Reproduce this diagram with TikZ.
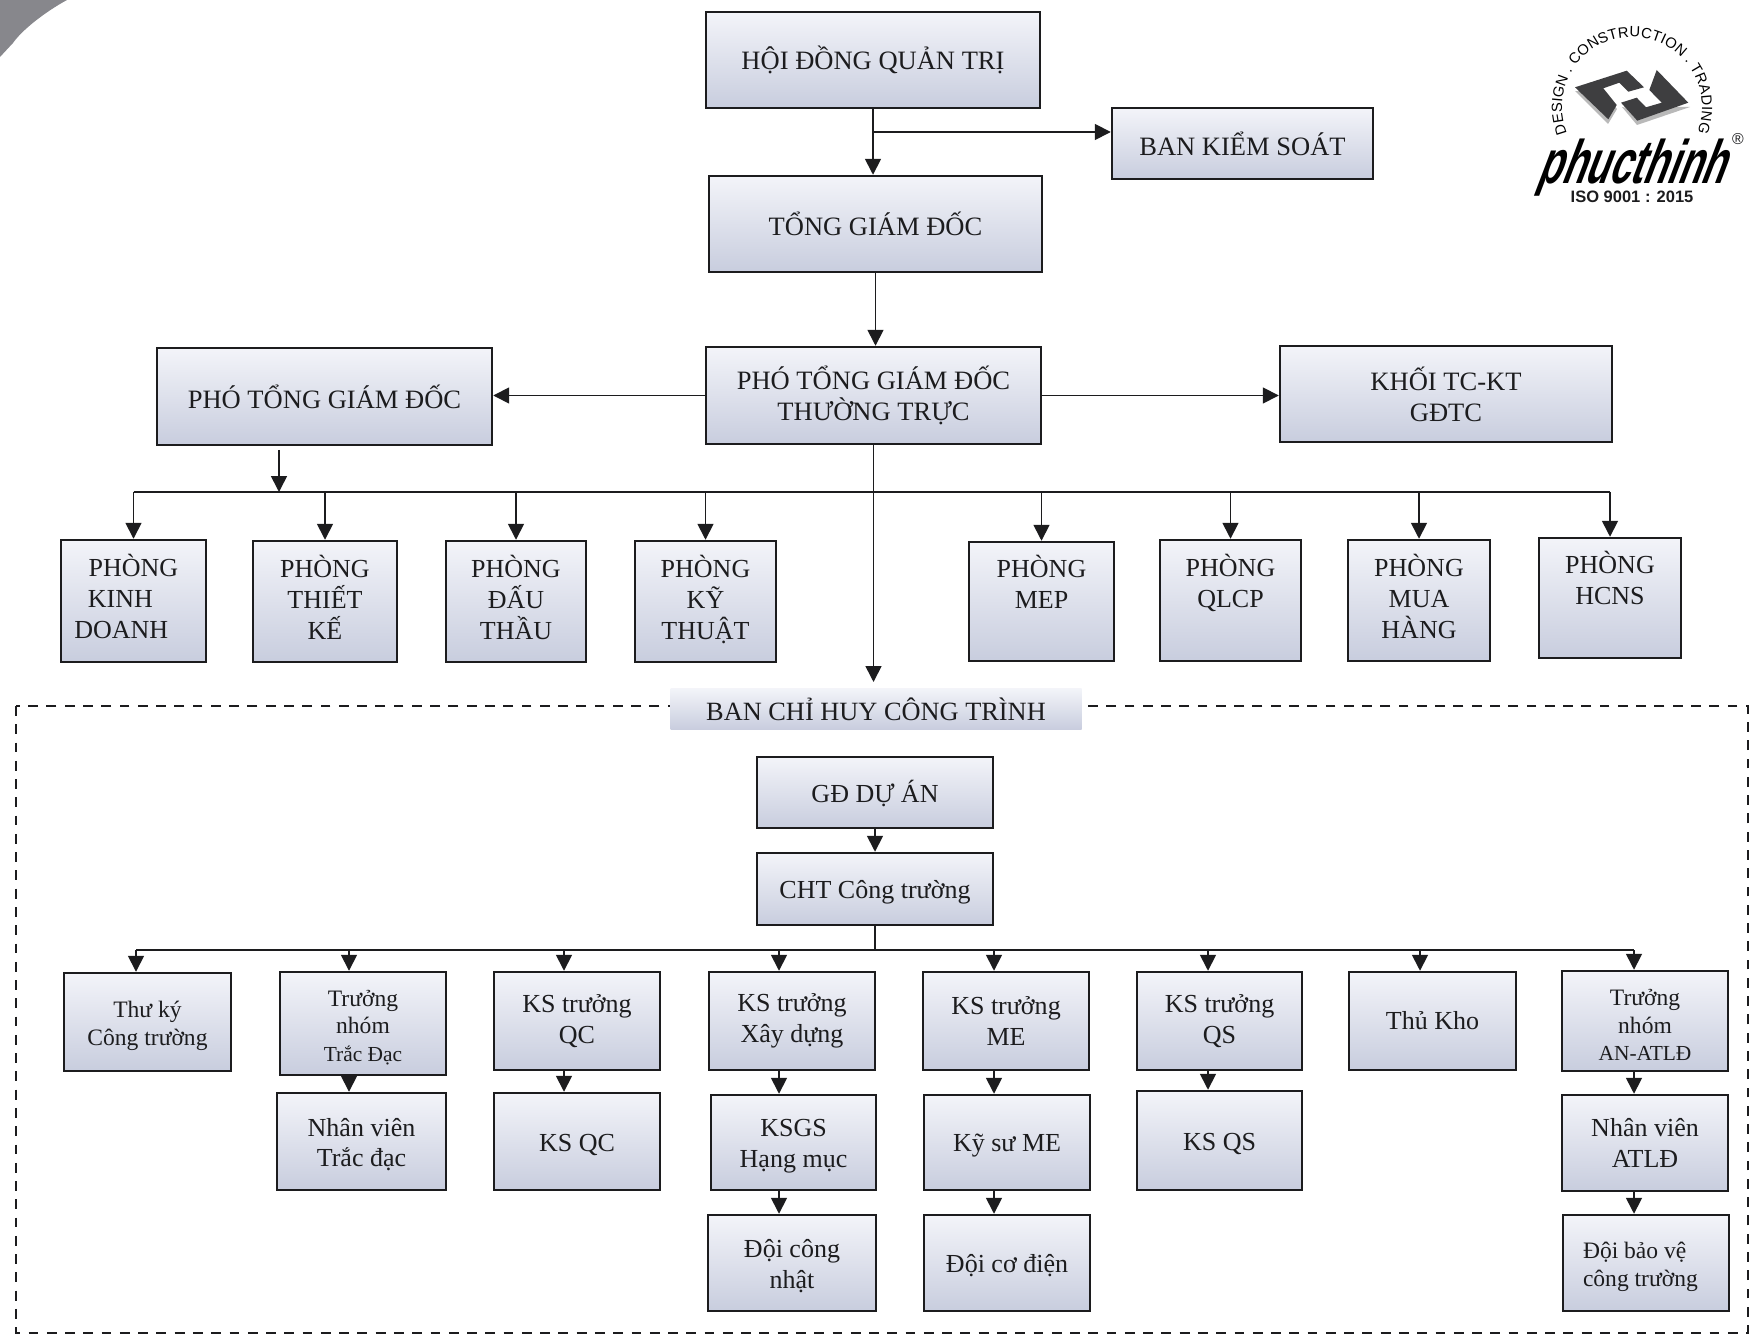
\documentclass[tikz,border=0pt]{standalone}
\usepackage{fontspec}
\setmainfont{Liberation Serif}
\newfontfamily\logofont[FakeSlant=0.38,FakeStretch=0.63]{Liberation Sans}
\newfontfamily\logosans{Liberation Sans}
\usetikzlibrary{arrows.meta,decorations.text}
\definecolor{boxtop}{RGB}{243,244,249}
\definecolor{boxbot}{RGB}{200,205,222}
\definecolor{cornergrey}{RGB}{135,135,140}
\definecolor{inkdark}{RGB}{28,28,30}
\definecolor{logogrey}{RGB}{185,185,185}
\newcommand{\smalltxt}{\fontsize{12.2}{15}\selectfont}
\newcommand{\topgap}{~\\[-3.8pt]}
\newcommand{\topgapm}{~\\[-2pt]}
\newcommand{\botgap}{\\[-12.6pt]~}
\newcommand{\botblank}{\\[5pt]~}

\begin{document}
\begin{tikzpicture}[x=0.02cm,y=0.02cm,
  wh/.style 2 args={minimum width=#1*0.02cm,minimum height=#2*0.02cm}]
\tikzstyle{every node}+=[inner sep=0pt,text=inkdark]
\tikzstyle{box}=[draw=inkdark,line width=1.4pt,top color=boxtop,bottom color=boxbot,align=center,font=\fontsize{14.8}{17.6}\selectfont]
\tikzstyle{headbox}=[box,font=\fontsize{15.1}{17.6}\selectfont]
\tikzstyle{midbox}=[box,font=\fontsize{13.4}{15.8}\selectfont]
\tikzstyle{link}=[draw=inkdark,line width=0.95pt]
\tikzstyle{arrow}=[link,-{Triangle[length=9pt,width=9pt]}]
\useasboundingbox (0,0) rectangle (1750,-1337);
\fill [cornergrey] (0,0) -- (67,0) .. controls (45,-12) and (22,-30) .. (13,-43) -- (0,-57) -- cycle;
\draw [inkdark,line width=1.15pt,dash pattern=on 5.6pt off 4.8pt] (16,-706) rectangle (1748,-1333);
\node [headbox] (hdqt) [wh={334}{96}] at (873,-60) {HỘI ĐỒNG QUẢN TRỊ};
\node [headbox] (bks) [wh={261}{71}] at (1242.5,-143.5) {BAN KIỂM SOÁT};
\node [headbox] (tgd) [wh={333}{96}] at (875.5,-224) {TỔNG GIÁM ĐỐC};
\node [headbox] (pttt) [wh={335}{97}] at (873.5,-395.5) {PHÓ TỔNG GIÁM ĐỐC\\THƯỜNG TRỰC};
\node [headbox] (ptgd) [wh={335}{97}] at (324.5,-396.5) {PHÓ TỔNG GIÁM ĐỐC};
\node [headbox] (khoi) [wh={332}{96}] at (1446,-394) {KHỐI TC-KT\\GĐTC};
\node [box] (kd) [wh={145}{122}] at (133.5,-601) {PHÒNG\\KINH\kern15pt\\DOANH\kern14pt\botgap};
\node [box] (tk) [wh={144}{121}] at (325,-601.5) {PHÒNG\\THIẾT\\KẾ\botgap};
\node [box] (dt) [wh={140}{121}] at (516,-601.5) {PHÒNG\\ĐẤU\\THẦU\botgap};
\node [box] (kt) [wh={141}{121}] at (705.5,-601.5) {PHÒNG\\KỸ\\THUẬT\botgap};
\node [box] (mep) [wh={145}{119}] at (1041.5,-601.5) {PHÒNG\\MEP\botblank};
\node [box] (qlcp) [wh={141}{121}] at (1230.5,-600.5) {PHÒNG\\QLCP\botblank};
\node [box] (mh) [wh={142}{121}] at (1419,-600.5) {PHÒNG\\MUA\\HÀNG\botgap};
\node [box] (hcns) [wh={142}{120}] at (1610,-598) {PHÒNG\\HCNS\botblank};
\node [draw=none,top color=boxtop,bottom color=boxbot,font=\fontsize{15}{17}\selectfont,wh={411}{41}] (bch) at (876,-709) {BAN CHỈ HUY CÔNG TRÌNH};
\node [box] (gd) [wh={236}{71}] at (875,-792.5) {\topgap GĐ DỰ ÁN};
\node [box] (cht) [wh={236}{72}] at (875,-889) {\topgap CHT Công trường};
\node [midbox] (tky) [wh={167}{98}] at (147.5,-1022) {\topgapm Thư ký\\Công trường};
\node [midbox] (tn) [wh={166}{103}] at (363,-1023.5) {\topgapm Trưởng\\nhóm\\{\smalltxt Trắc Đạc}};
\node [box] (ksqc) [wh={166}{98}] at (577,-1021) {KS trưởng\\QC};
\node [box] (ksxd) [wh={166}{98}] at (792,-1021) {KS trưởng\\Xây dựng};
\node [box] (ksme) [wh={166}{98}] at (1006,-1021) {KS trưởng\\ME};
\node [box] (ksqs) [wh={165}{98}] at (1219.5,-1021) {KS trưởng\\QS};
\node [box] (tho) [wh={167}{98}] at (1432.5,-1021) {Thủ Kho};
\node [midbox] (tnan) [wh={166}{100}] at (1645,-1021) {\topgapm Trưởng\\nhóm\\{\smalltxt AN-ATLĐ}};
\node [box] (nvtd) [wh={169}{97}] at (361.5,-1141.5) {\topgap Nhân viên\\Trắc đạc};
\node [box] (qc) [wh={166}{97}] at (577,-1141.5) {\topgap KS QC};
\node [box] (ksgs) [wh={165}{95}] at (793.5,-1142.5) {\topgap KSGS\\Hạng mục};
\node [box] (me) [wh={166}{95}] at (1007,-1142.5) {\topgap Kỹ sư ME};
\node [box] (qs) [wh={165}{99}] at (1219.5,-1140.5) {\topgap KS QS};
\node [box] (nvat) [wh={166}{96}] at (1645,-1143) {Nhân viên\\ATLĐ};
\node [box] (dcn) [wh={168}{96}] at (792,-1263) {\topgap Đội công\\nhật};
\node [box] (dcd) [wh={166}{96}] at (1007,-1263) {\topgap Đội cơ điện};
\node [midbox,align=left] (dbv) [wh={166}{96}] at (1646,-1263) {\topgapm Đội bảo vệ\\công trường\kern6.4pt};
\coordinate (branch) at (873,-132);
\coordinate (busup) at (874,-492);
\coordinate (ptgdtail) at (279,-450);
\coordinate (bchtip) at (874,-682);
\coordinate (buslow) at (876,-950);
\coordinate (dropa) at (136,-950);
\coordinate (dropb) at (349,-950);
\coordinate (dropc) at (564,-950);
\coordinate (dropd) at (779,-950);
\coordinate (drope) at (994,-950);
\coordinate (dropf) at (1208,-950);
\coordinate (dropg) at (1420,-950);
\coordinate (droph) at (1634,-950);
\draw [arrow] (hdqt.south) -- (hdqt.south |- tgd.north);
\draw [arrow] (branch) -- (branch -| bks.west);
\draw [arrow] (tgd.south) -- (tgd.south |- pttt.north);
\draw [arrow] (pttt.west) -- (pttt.west -| ptgd.east);
\draw [arrow] (pttt.east) -- (pttt.east -| khoi.west);
\draw [arrow] (pttt.south) -- (pttt.south |- bchtip);
\draw [arrow] (ptgdtail) -- (ptgdtail |- busup);
\draw [link] (busup -| kd.north) -- (busup -| hcns.north);
\draw [arrow] (busup -| kd.north) -- (kd.north);
\draw [arrow] (busup -| tk.north) -- (tk.north);
\draw [arrow] (busup -| dt.north) -- (dt.north);
\draw [arrow] (busup -| kt.north) -- (kt.north);
\draw [arrow] (busup -| mep.north) -- (mep.north);
\draw [arrow] (busup -| qlcp.north) -- (qlcp.north);
\draw [arrow] (busup -| mh.north) -- (mh.north);
\draw [arrow] (busup -| hcns.north) -- (hcns.north);
\draw [arrow] (gd.south) -- (cht.north);
\draw [link] (cht.south) -- (cht.south |- buslow);
\draw [link] (dropa) -- (droph);
\draw [arrow] (dropa) -- (dropa |- tky.north);
\draw [arrow] (dropb) -- (dropb |- tn.north);
\draw [arrow] (dropc) -- (dropc |- ksqc.north);
\draw [arrow] (dropd) -- (dropd |- ksxd.north);
\draw [arrow] (drope) -- (drope |- ksme.north);
\draw [arrow] (dropf) -- (dropf |- ksqs.north);
\draw [arrow] (dropg) -- (dropg |- tho.north);
\draw [arrow] (droph) -- (droph |- tnan.north);
\draw [arrow] (dropb |- tn.south) -- (dropb |- nvtd.north);
\draw [arrow] (dropc |- ksqc.south) -- (dropc |- qc.north);
\draw [arrow] (dropd |- ksxd.south) -- (dropd |- ksgs.north);
\draw [arrow] (drope |- ksme.south) -- (drope |- me.north);
\draw [arrow] (dropf |- ksqs.south) -- (dropf |- qs.north);
\draw [arrow] (droph |- tnan.south) -- (droph |- nvat.north);
\draw [arrow] (dropd |- ksgs.south) -- (dropd |- dcn.north);
\draw [arrow] (drope |- me.south) -- (drope |- dcd.north);
\draw [arrow] (droph |- nvat.south) -- (droph |- dbv.north);
\fill [logogrey] (1575,-91) -- (1608,-124) -- (1617,-109) -- (1603,-92) -- cycle;
\fill [logogrey] (1622,-107) -- (1637,-125) -- (1690,-107) -- (1662,-107) -- (1646,-112) -- cycle;
\fill [inkdark!85] (1575,-87.3) -- (1626.7,-70.7) -- (1644,-87.3) -- (1628.3,-91.7) -- (1619.3,-82.7) -- (1603.3,-88.3) -- (1616.7,-105) -- (1608.3,-119.3) -- cycle;
\fill [inkdark!85] (1656.7,-70) -- (1688.3,-102.7) -- (1637.3,-120.7) -- (1621,-102.7) -- (1636.7,-97.7) -- (1646,-107.3) -- (1661.7,-102.7) -- (1649.3,-90) -- cycle;
\path [decorate,decoration={text along path,text align={fit to path},text={|\logosans\fontsize{8.4}{9}\selectfont|DESIGN . CONSTRUCTION . TRADING}}] (1632,-107) ++(202:70) arc (202:-21:70);
\node [font=\logofont\bfseries\fontsize{35}{36}\selectfont,anchor=base,text=black] (brand) at (1630,-184) {phucthinh};
\node [font=\logosans\bfseries\fontsize{9.4}{11}\selectfont,anchor=base] (iso) at (1632,-203) {ISO 9001 : 2015};
\node [font=\logosans\fontsize{9}{11}\selectfont] (reg) at (1738,-139) {®};
\end{tikzpicture}
\end{document}
